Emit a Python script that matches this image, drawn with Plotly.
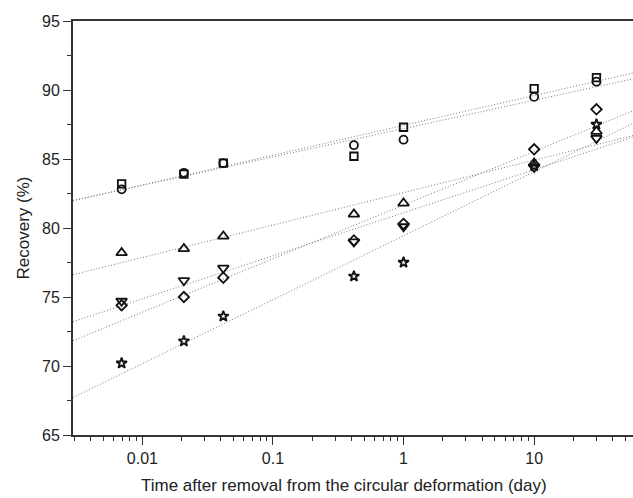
import numpy as np
import plotly.graph_objects as go

# Data (time in days, recovery in %)
time_days = [0.00694, 0.0208, 0.0417, 0.417, 1, 10, 30]
rec_square = [83.2, 83.9, 84.7, 85.2, 87.3, 90.1, 90.9]
rec_circle = [82.8, 84.0, 84.7, 86.0, 86.4, 89.5, 90.6]
rec_tri_up = [78.2, 78.5, 79.4, 81.0, 81.8, 84.7, 87.0]
rec_tri_down = [74.7, 76.2, 77.1, 79.0, 80.1, 84.4, 86.5]
rec_diamond = [74.4, 75.0, 76.4, 79.1, 80.3, 85.7, 88.6]
rec_star = [70.2, 71.8, 73.6, 76.5, 77.5, 84.5, 87.5]

x_tick_vals = [0.01, 0.1, 1, 10]
x_tick_text = ["0.01", "0.1", "1", "10"]

series = [
    (rec_square, "square-open", 7.5),
    (rec_circle, "circle-open", 8),
    (rec_tri_up, "triangle-up-open", 9.5),
    (rec_tri_down, "triangle-down-open", 9.5),
    (rec_diamond, "diamond-open", 8),
    (rec_star, "star-open", 8),
]

XLOG_RANGE = [-2.531, 1.757]

fig = go.Figure()
lx = np.log10(np.array(time_days))
xfit = np.array([10 ** XLOG_RANGE[0], 10 ** XLOG_RANGE[1]])
for vals, sym, sz in series:
    k, b = np.polyfit(lx, np.array(vals), 1)
    fig.add_trace(go.Scatter(
        x=xfit, y=k * np.log10(xfit) + b, mode="lines",
        line=dict(color="#7a7a7a", width=1, dash="1px,2px"),
        showlegend=False, hoverinfo="skip"))
for vals, sym, sz in series:
    fig.add_trace(go.Scatter(
        x=time_days, y=vals, mode="markers",
        marker=dict(symbol=sym, size=sz, color="#111111",
                    line=dict(color="#111111", width=1.8)),
        showlegend=False))

minor_vals = [k * 10.0 ** e for e in range(-3, 2) for k in range(2, 10)]

axis_col = "#333333"
fig.update_layout(
    width=633, height=498,
    margin=dict(l=73, r=0, t=21, b=63),
    paper_bgcolor="white", plot_bgcolor="white",
    font=dict(family="Liberation Sans, Arial, sans-serif", size=16, color="#222222"),
    xaxis=dict(
        type="log", range=XLOG_RANGE,
        tickmode="array", tickvals=x_tick_vals, ticktext=x_tick_text,
        ticks="outside", ticklen=8, tickwidth=1.2, tickcolor=axis_col,
        minor=dict(tickmode="array", tickvals=minor_vals, ticks="outside",
                   ticklen=4, tickwidth=1, tickcolor=axis_col, showgrid=False),
        showline=True, linecolor=axis_col, linewidth=1.8, mirror=True,
        showgrid=False, zeroline=False,
        tickfont=dict(size=16),
    ),
    yaxis=dict(
        range=[65, 95], tickmode="linear", tick0=65, dtick=5,
        ticks="outside", ticklen=8, tickwidth=1.2, tickcolor=axis_col,
        minor=dict(dtick=2.5, ticks="outside", ticklen=4, tickwidth=1,
                   tickcolor=axis_col, showgrid=False),
        showline=True, linecolor=axis_col, linewidth=1.8, mirror=False,
        showgrid=False, zeroline=False,
        title=dict(text="Recovery (%)", font=dict(size=17), standoff=8),
        tickfont=dict(size=16),
    ),
    annotations=[dict(
        text="Time after removal from the circular deformation (day)",
        xref="paper", yref="paper", x=0.484, y=-0.121,
        xanchor="center", yanchor="middle", showarrow=False,
        font=dict(size=17, color="#222222"))],
)

fig.write_html("out.html")
